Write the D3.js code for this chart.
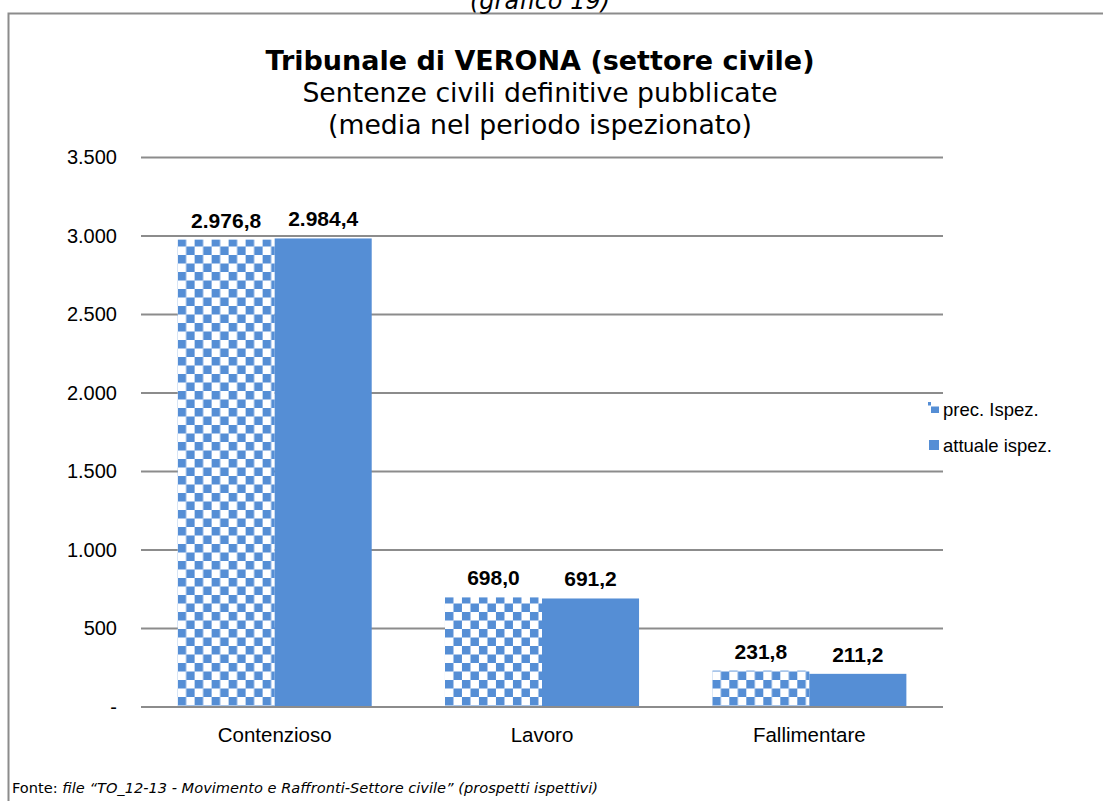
<!DOCTYPE html>
<html><head><meta charset="utf-8">
<script src="https://cdn.jsdelivr.net/npm/d3@7"></script>
<style>body{margin:0;background:#fff}svg{display:block}</style>
</head><body>
<svg id="c" width="1103" height="801"></svg>
<script>
const categories = ["Contenzioso", "Lavoro", "Fallimentare"];
const seriesNames = ["prec. Ispez.", "attuale ispez."];
const precValues = [2976.8, 698.0, 231.8];
const attualeValues = [2984.4, 691.2, 211.2];
const yTicks = [0, 500, 1000, 1500, 2000, 2500, 3000, 3500];

const svg = d3.select("#c");
const W = 1103, H = 801;
const blue = "#558ED5";
const fA = "Liberation Sans, Arial, sans-serif";
const fT = "DejaVu Sans, Verdana, sans-serif";
const defs = svg.append("defs");
const pat = defs.append("pattern").attr("id","chk").attr("patternUnits","userSpaceOnUse")
  .attr("width",17).attr("height",17);
pat.append("rect").attr("width",17).attr("height",17).attr("fill","#fff");
pat.append("rect").attr("x",0).attr("y",0).attr("width",8.5).attr("height",8.5).attr("fill",blue);
pat.append("rect").attr("x",8.5).attr("y",8.5).attr("width",8.5).attr("height",8.5).attr("fill",blue);

// frame
svg.append("rect").attr("x",8.5).attr("y",13.5).attr("width",W).attr("height",H)
  .attr("fill","none").attr("stroke","#8c8c8c").attr("stroke-width",2);

svg.append("text").attr("x",540).attr("y",9).attr("text-anchor","middle")
  .attr("font-family",fT).attr("font-style","italic").attr("font-size",24)
  .text("(grafico 19)");

svg.append("text").attr("x",540).attr("y",70).attr("text-anchor","middle")
  .attr("font-family",fT).attr("font-weight","bold").attr("font-size",27)
  .text("Tribunale di VERONA (settore civile)");
svg.append("text").attr("x",540).attr("y",102).attr("text-anchor","middle")
  .attr("font-family",fT).attr("font-size",26.7).text("Sentenze civili definitive pubblicate");
svg.append("text").attr("x",540).attr("y",134).attr("text-anchor","middle")
  .attr("font-family",fT).attr("font-size",26.7).text("(media nel periodo ispezionato)");

const x0 = d3.scaleBand().domain(categories).range([141, 943]).paddingInner(0.274).paddingOuter(0.137);
const x1 = d3.scaleBand().domain(seriesNames).range([0, x0.bandwidth()]);
const y = d3.scaleLinear().domain([0, 3500]).range([707, 157.5]);

const fmt = d3.formatLocale({decimal:",", thousands:".", grouping:[3], currency:["","€"]});
const tickFmt = v => v === 0 ? "-" : fmt.format(",")(v);
const valFmt = fmt.format(",.1f");

// gridlines
svg.append("g").selectAll("line").data(yTicks).join("line")
  .attr("x1",141).attr("x2",943).attr("y1",d=>y(d)).attr("y2",d=>y(d))
  .attr("stroke","#8c8c8c").attr("stroke-width",2);

svg.append("g").selectAll("text").data(yTicks).join("text")
  .attr("x",117).attr("y",d=>y(d)+6.5).attr("text-anchor","end")
  .attr("font-family",fA).attr("font-size",20)
  .text(tickFmt);

const data = categories.map((c,i)=>({c, vals:[precValues[i], attualeValues[i]]}));
const g = svg.append("g").selectAll("g").data(data).join("g")
  .attr("transform",d=>`translate(${x0(d.c)},0)`);
g.selectAll("rect").data(d=>d.vals.map((v,j)=>({s:seriesNames[j],v,j}))).join("rect")
  .attr("x",d=>x1(d.s)).attr("width",x1.bandwidth())
  .attr("y",d=>y(d.v)).attr("height",d=>y(0)-y(d.v))
  .attr("fill",d=>d.j===0?"url(#chk)":blue);
g.selectAll("text").data(d=>d.vals.map((v,j)=>({s:seriesNames[j],v,j}))).join("text")
  .attr("x",d=>x1(d.s)+x1.bandwidth()/2).attr("y",d=>y(d.v)-12)
  .attr("text-anchor","middle").attr("font-family",fA)
  .attr("font-weight","bold").attr("font-size",21).text(d=>valFmt(d.v));

// baseline over bars
svg.append("line").attr("x1",141).attr("x2",943).attr("y1",y(0)).attr("y2",y(0))
  .attr("stroke","#8c8c8c").attr("stroke-width",2);

svg.append("g").selectAll("text").data(categories).join("text")
  .attr("x",d=>x0(d)+x0.bandwidth()/2).attr("y",742).attr("text-anchor","middle")
  .attr("font-family",fA).attr("font-size",20.5).text(d=>d);

// legend
const lg = svg.append("g");
const lb = [416, 452];
seriesNames.forEach((s,i)=>{
  if(i===0){
    lg.append("rect").attr("x",928).attr("y",402).attr("width",3).attr("height",3.5).attr("fill",blue);
    lg.append("rect").attr("x",931).attr("y",406.5).attr("width",8).attr("height",6.5).attr("fill",blue);
  } else {
    lg.append("rect").attr("x",929).attr("y",440).attr("width",10).attr("height",10).attr("fill",blue);
  }
  lg.append("text").attr("x",943).attr("y",lb[i]).attr("font-family",fA)
    .attr("font-size",18.5).text(s);
});

const ft = svg.append("text").attr("x",12).attr("y",793).attr("font-family",fT).attr("font-size",14.6);
ft.append("tspan").text("Fonte: ");
ft.append("tspan").attr("font-style","italic").text("file “TO_12-13 - Movimento e Raffronti-Settore civile” (prospetti ispettivi)");
</script>
</body></html>
